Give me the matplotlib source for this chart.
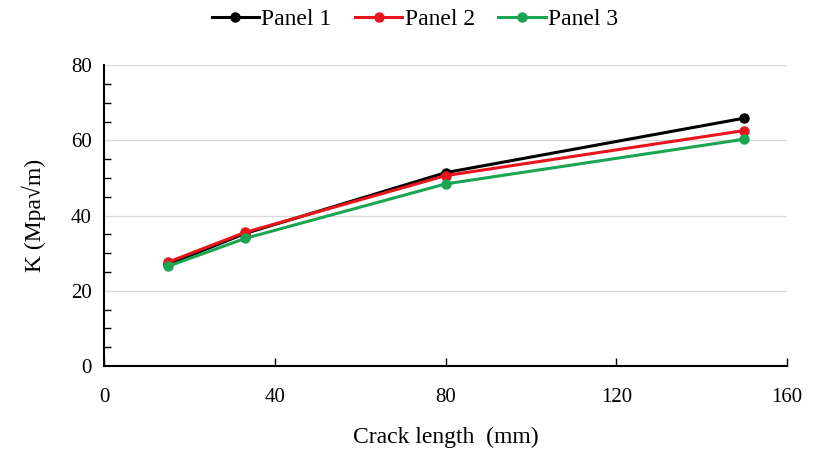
"""Factor de intensidad de tensiones K frente a longitud de grieta para tres paneles."""

import matplotlib.pyplot as plt
from matplotlib.ticker import MultipleLocator

# Datos
crack_length = [15, 33, 80, 150]
panel_1 = [27.0, 35.2, 51.4, 65.9]
panel_2 = [27.6, 35.5, 50.6, 62.6]
panel_3 = [26.5, 33.9, 48.4, 60.3]

series_labels = ["Panel 1", "Panel 2", "Panel 3"]
series_colors = ["#000000", "#e8161c", "#1aa552"]

plt.rcParams["font.family"] = ["Liberation Serif", "DejaVu Serif"]

fig = plt.figure(figsize=(8.19, 4.49), dpi=100)
ax = fig.add_axes([0.127, 0.185, 0.834, 0.67])

for values, label, color in zip([panel_1, panel_2, panel_3], series_labels, series_colors):
    ax.plot(crack_length, values, color=color, linewidth=2.2, marker="o",
            markersize=6.5, label=label)

ax.set_xlim(0, 160)
ax.set_ylim(0, 80)
ax.xaxis.set_major_locator(MultipleLocator(40))
ax.yaxis.set_major_locator(MultipleLocator(20))
ax.yaxis.set_minor_locator(MultipleLocator(5))

ax.grid(axis="y", color="#d9d9d9", linewidth=1)
ax.set_axisbelow(True)
for side in ["top", "right"]:
    ax.spines[side].set_visible(False)
for side in ["left", "bottom"]:
    ax.spines[side].set_linewidth(1.5)

ax.tick_params(axis="x", which="major", direction="in", length=6, width=1,
               labelsize=15, pad=16)
ax.tick_params(axis="y", which="major", direction="in", length=0,
               labelsize=15, pad=9)
ax.tick_params(axis="y", which="minor", direction="in", length=5, width=1)

ax.set_xlabel("Crack length  (mm)", fontsize=17, labelpad=14)
ax.set_ylabel("K (Mpa\u221am)", fontsize=17, labelpad=18)

ax.legend(loc="lower center", bbox_to_anchor=(0.455, 1.045), ncol=3, frameon=False,
          fontsize=17, handlelength=2.0, handletextpad=0.1, columnspacing=1.0)

fig.savefig("out.png", dpi=100)
